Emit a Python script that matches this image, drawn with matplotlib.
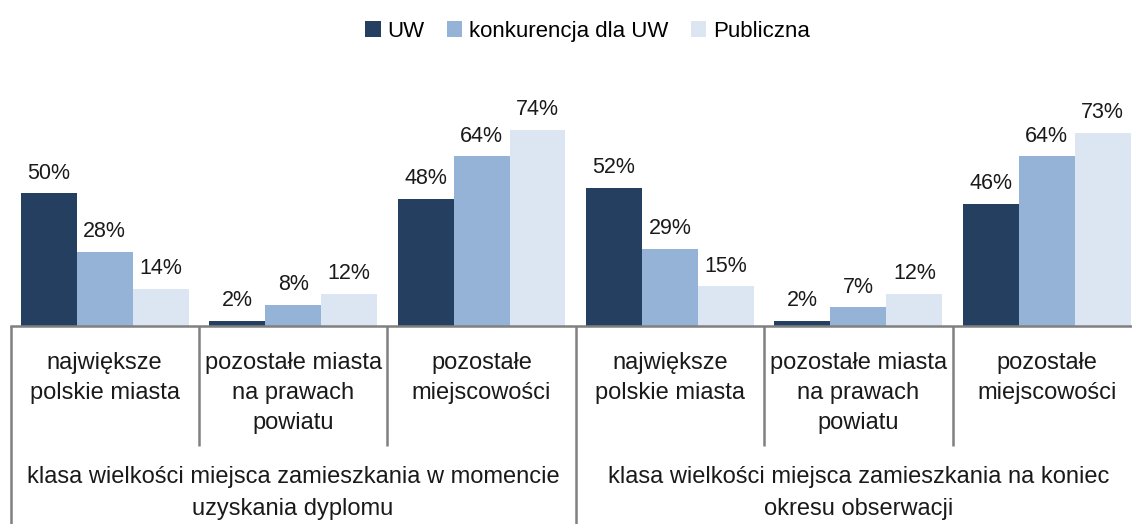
import numpy as np
from matplotlib import pyplot as plt
from matplotlib.patches import Patch

# Data
categories = ["największe\npolskie miasta",
              "pozostałe miasta\nna prawach\npowiatu",
              "pozostałe\nmiejscowości"] * 2
groups = ["klasa wielkości miejsca zamieszkania w momencie\nuzyskania dyplomu",
          "klasa wielkości miejsca zamieszkania na koniec\nokresu obserwacji"]
series = ["UW", "konkurencja dla UW", "Publiczna"]
uw = [50, 2, 48, 52, 2, 46]
konkurencja = [28, 8, 64, 29, 7, 64]
publiczna = [14, 12, 74, 15, 12, 73]
values = [uw, konkurencja, publiczna]
colors = ["#243F60", "#95B3D7", "#DCE6F2"]

plt.rcParams['font.family'] = ['Liberation Sans Narrow', 'Liberation Sans', 'DejaVu Sans']

W, H = 1132, 524
fig = plt.figure(figsize=(W / 100, H / 100), dpi=100)
base = 326  # baseline, px from top
ax = fig.add_axes([10.5 / W, (H - base) / H, 1130.5 / W, 265 / H])
lab = fig.add_axes([10.5 / W, 0, 1130.5 / W, (H - base) / H])

x = np.arange(len(categories))
bw = 0.297
for k, (vals, col) in enumerate(zip(values, colors)):
    bars = ax.bar(x + (k - 1) * bw, vals, width=bw, color=col, label=series[k])
    for b, v in zip(bars, vals):
        ax.annotate(f"{v}%", (b.get_x() + b.get_width() / 2, v),
                    xytext=(0, 7), textcoords="offset points",
                    ha="center", va="bottom", fontsize=15.5, color="#1a1a1a")

ax.set_xlim(-0.5, len(categories) - 0.5)
ax.set_ylim(0, 100)
for s in ["top", "left", "right"]:
    ax.spines[s].set_visible(False)
ax.spines["bottom"].set_color("#808080")
ax.spines["bottom"].set_linewidth(1.8)
ax.set_xticks([])
ax.set_yticks([])

# label area under the axis
lab.set_xlim(ax.get_xlim())
lab.set_ylim(H - base, 0)
lab.axis("off")
gray = "#808080"
for i in range(len(categories) + 1):
    xd = i - 0.5
    outer = i % 3 == 0
    lab.plot([xd, xd], [0, H - base if outer else 120], color=gray, lw=1.8,
             clip_on=False, solid_capstyle="butt")
    if i < len(categories):
        lab.text(i, 26, categories[i], ha="center", va="top", fontsize=17,
                 linespacing=1.47, color="#1a1a1a")
for g, name in enumerate(groups):
    lab.text(3 * g + 1, 140, name, ha="center", va="top", fontsize=17,
             linespacing=1.6, color="#1a1a1a")

handles = [Patch(facecolor=c, label=s) for c, s in zip(colors, series)]
fig.legend(handles=handles, loc="center", bbox_to_anchor=(0.519, 0.94), ncol=3,
           frameon=False, fontsize=16, handlelength=0.7, handleheight=0.7,
           handletextpad=0.3, columnspacing=1.0)

plt.savefig("out.png", dpi=100)
